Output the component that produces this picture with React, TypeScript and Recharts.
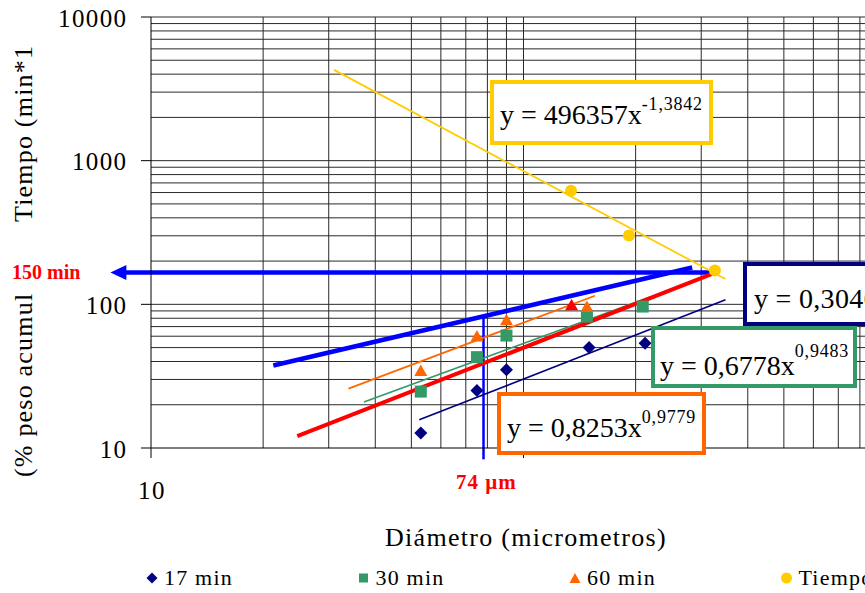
import React from 'react';
import { ComposedChart, Line, Scatter, XAxis, YAxis, CartesianGrid, ReferenceLine } from 'recharts';

const FONT = "'Liberation Serif', 'Times New Roman', Times, serif";

// ---- series (diameter in µm, % cumulative weight / time in min) ----
const seriesNames = ['17 min', '30 min', '60 min', 'Tiempo'];
const seriesColors = ['#000080', '#339966', '#FF6600', '#FFCC00'];

const diam17 = [53, 75, 90, 150, 212];
const peso17 = [12.7, 25.1, 35.0, 50.0, 53.7];
const diam30 = [53, 75, 90, 148, 209];
const peso30 = [24.7, 42.9, 60.6, 82.2, 96.5];
const diam60 = [53, 75, 90, 148];
const peso60 = [34.6, 60.3, 78.0, 96.5];
const diamRed = [134.6];
const pesoRed = [99.2];
const diamTiempo = [134.1, 191.9, 326.5];
const tiempoMin = [618, 301.6, 172];

// ---- trend lines (end points) ----
const trendTiempoX = [31.0, 348.6];
const trendTiempoY = [4285, 150];
const trend17X = [52.5, 348.6];
const trend17Y = [15.7, 107.5];
const trend30X = [37.3, 218];
const trend30Y = [20.9, 112];
const trend60X = [33.9, 155.5];
const trend60Y = [25.9, 114.8];
const redX = [24.7, 328.5];
const redY = [12.1, 166.6];
const blueX = [21.3, 283.7];
const blueY = [37.5, 180.5];
const arrowX = [7.78, 328.5];
const arrowY = 166.6;
const cutX = 78.1;
const cutY = [8.34, 81];

// ---- axes ----
const xTicks = [10, 100, 1000];
const xTickLabels = ['10', '', ''];
const yTicks = [10, 100, 1000, 10000];
const yTickLabels = ['10', '100', '1000', '10000'];
const xGrid = [20, 30, 40, 50, 60, 70, 80, 90, 100, 200, 300, 400, 500, 600, 700, 800, 900];
const yGrid = [20, 30, 40, 50, 60, 70, 80, 90, 100, 200, 300, 400, 500, 600, 700, 800, 900, 1000,
  2000, 3000, 4000, 5000, 6000, 7000, 8000, 9000, 10000];

const xTitle = 'Diámetro (micrometros)';
const yTitleLow = '(% peso acumul';
const yTitleHigh = 'Tiempo (min*1';
const label150 = '150 min';
const label74 = '74 µm';

const eqBase = ['y = 496357x', 'y = 0,3046x', 'y = 0,6778x', 'y = 0,8253x'];
const eqExp = ['-1,3842', '1,0173', '0,9483', '0,9779'];
const eqColors = ['#FFCC00', '#000080', '#339966', '#FF6600'];

const pts = (xs: number[], ys: number[]) => xs.map((x, i) => ({ x, y: ys[i] }));

const d17 = pts(diam17, peso17);
const d30 = pts(diam30, peso30);
const d60 = pts(diam60, peso60);
const dRed = pts(diamRed, pesoRed);
const dTiempo = pts(diamTiempo, tiempoMin);

// ---- layout (pixels) ----
const boxes = [
  { x: 492, y: 82, w: 219, h: 61, tx: 500, ty: 123.5, dy: -14, ls: 0 },
  { x: 745, y: 264, w: 215, h: 60, tx: 754, ty: 308, dy: -16, ls: 0.3 },
  { x: 653, y: 328, w: 202, h: 58, tx: 660, ty: 375, dy: -18, ls: 0 },
  { x: 499, y: 394, w: 205, h: 59, tx: 507, ty: 436.5, dy: -13.5, ls: 0 },
];

const Diamond = (p: any) => {
  const { cx, cy } = p;
  const r = 6.5;
  return <polygon points={`${cx},${cy - r} ${cx + r},${cy} ${cx},${cy + r} ${cx - r},${cy}`} fill={seriesColors[0]} />;
};
const Square = (p: any) => <rect x={p.cx - 6} y={p.cy - 6} width={12} height={12} fill={seriesColors[1]} />;
const makeTriangle = (color: string) => (p: any) => {
  const { cx, cy } = p;
  return <polygon points={`${cx},${cy - 6} ${cx + 6.5},${cy + 5.5} ${cx - 6.5},${cy + 5.5}`} fill={color} />;
};
const Dot = (p: any) => <circle cx={p.cx} cy={p.cy} r={6} fill={seriesColors[3]} />;

const XTick = (props: any) => {
  const { x, y, payload } = props;
  const i = xTicks.indexOf(payload.value);
  const label = i >= 0 ? xTickLabels[i] : '';
  if (!label) return <g />;
  return (
    <text x={x + 1} y={y + 38.5} textAnchor="middle" fontSize={25} fontFamily={FONT} letterSpacing={1.4} fill="#000">
      {label}
    </text>
  );
};
const YTick = (props: any) => {
  const { x, y, payload } = props;
  const i = yTicks.indexOf(payload.value);
  const label = i >= 0 ? yTickLabels[i] : '';
  return (
    <text x={x - 11.5} y={y + 9.5} textAnchor="end" fontSize={25} fontFamily={FONT} letterSpacing={1.4} fill="#000">
      {label}
    </text>
  );
};

const ArrowShape = (props: any) => {
  const { x1, y1, x2, y2 } = props;
  const left = Math.min(x1, x2);
  const right = Math.max(x1, x2);
  const yy = y1 ?? y2;
  return (
    <g>
      <line x1={left + 12} y1={yy} x2={right} y2={yy} stroke="#0000FF" strokeWidth={4.5} />
      <polygon points={`${left},${yy} ${left + 16},${yy - 7.5} ${left + 16},${yy + 7.5}`} fill="#0000FF" />
    </g>
  );
};

const lineProps = { dot: false, activeDot: false, isAnimationActive: false, type: 'linear' as const, dataKey: 'y', legendType: 'none' as const };

export default function App() {
  return (
    <div style={{ position: 'absolute', left: 0, top: 0, width: 865, height: 593, overflow: 'hidden', background: '#fff' }}>
      <ComposedChart width={910} height={593} margin={{ top: 17, right: 14, bottom: 0, left: 0 }}>
        <CartesianGrid horizontalValues={yGrid} verticalValues={xGrid} stroke="#2a2a2a" strokeWidth={1} />
        <XAxis
          dataKey="x"
          type="number"
          scale="log"
          domain={[10, 1000]}
          allowDataOverflow
          ticks={xTicks}
          tick={<XTick />}
          tickSize={10}
          tickMargin={2}
          height={145}
          axisLine={{ stroke: '#000' }}
          tickLine={{ stroke: '#000' }}
          interval={0}
        />
        <YAxis
          dataKey="y"
          type="number"
          scale="log"
          domain={[10, 10000]}
          allowDataOverflow
          ticks={yTicks}
          tick={<YTick />}
          tickSize={10}
          tickMargin={2}
          width={151}
          axisLine={{ stroke: '#000' }}
          tickLine={{ stroke: '#000' }}
          interval={0}
        />
        <ReferenceLine
          segment={[{ x: arrowX[0], y: arrowY }, { x: arrowX[1], y: arrowY }]}
          ifOverflow="visible"
          shape={<ArrowShape />}
        />
        <ReferenceLine
          segment={[{ x: cutX, y: cutY[0] }, { x: cutX, y: cutY[1] }]}
          ifOverflow="visible"
          stroke="#0000FF"
          strokeWidth={2.5}
        />
        <Line data={pts(trendTiempoX, trendTiempoY)} stroke="#FFCC00" strokeWidth={1.75} {...lineProps} />
        <Line data={pts(trend17X, trend17Y)} stroke="#000080" strokeWidth={1.6} {...lineProps} />
        <Line data={pts(trend30X, trend30Y)} stroke="#339966" strokeWidth={1.6} {...lineProps} />
        <Line data={pts(trend60X, trend60Y)} stroke="#FF6600" strokeWidth={1.75} {...lineProps} />
        <Line data={pts(blueX, blueY)} stroke="#0000FF" strokeWidth={4.5} {...lineProps} />
        <Line data={pts(redX, redY)} stroke="#FF0000" strokeWidth={4} {...lineProps} />
        <Scatter name={seriesNames[0]} data={d17} shape={Diamond} isAnimationActive={false} />
        <Scatter name={seriesNames[1]} data={d30} shape={Square} isAnimationActive={false} />
        <Scatter name={seriesNames[2]} data={d60} shape={makeTriangle(seriesColors[2])} isAnimationActive={false} />
        <Scatter name="d100" data={dRed} shape={makeTriangle('#FF0000')} isAnimationActive={false} />
        <Scatter name={seriesNames[3]} data={dTiempo} shape={Dot} isAnimationActive={false} />
      </ComposedChart>

      <svg width={865} height={593} style={{ position: 'absolute', left: 0, top: 0, pointerEvents: 'none' }}>
        {/* y axis title (two visible parts) */}
        <text transform="translate(32,222) rotate(-90)" fontSize={26} fontFamily={FONT} letterSpacing={1.2} fill="#000">
          {yTitleHigh}
        </text>
        <text transform="translate(32,477) rotate(-90)" fontSize={26} fontFamily={FONT} letterSpacing={1.2} fill="#000">
          {yTitleLow}
        </text>
        {/* x axis title */}
        <text x={526} y={546} textAnchor="middle" fontSize={26} fontFamily={FONT} letterSpacing={1.3} fill="#000">
          {xTitle}
        </text>
        {/* annotations */}
        <text x={12} y={278.5} fontSize={20} fontWeight="bold" fontFamily={FONT} fill="#FF0000">{label150}</text>
        <text x={456} y={489} fontSize={21} fontWeight="bold" fontFamily={FONT} letterSpacing={1} fill="#FF0000">{label74}</text>
        {/* equation boxes */}
        {boxes.map((b, i) => (
          <g key={i}>
            <rect x={b.x} y={b.y} width={b.w} height={b.h} fill="#fff" stroke={eqColors[i]} strokeWidth={4} />
            <text x={b.tx} y={b.ty} fontSize={28} fontFamily={FONT} letterSpacing={b.ls} fill="#000">
              {eqBase[i]}
              <tspan dy={b.dy} fontSize={18} letterSpacing={0.8}>{eqExp[i]}</tspan>
            </text>
          </g>
        ))}
        {/* legend */}
        {seriesNames.map((name, i) => {
          const cx = 152 + i * 211.5;
          const cy = 578;
          const c = seriesColors[i];
          let icon;
          if (i === 0) icon = <polygon points={`${cx},${cy - 5.5} ${cx + 5.5},${cy} ${cx},${cy + 5.5} ${cx - 5.5},${cy}`} fill={c} />;
          else if (i === 1) icon = <rect x={cx - 4.5} y={cy - 4.5} width={9} height={9} fill={c} />;
          else if (i === 2) icon = <polygon points={`${cx},${cy - 5} ${cx + 5.5},${cy + 5} ${cx - 5.5},${cy + 5}`} fill={c} />;
          else icon = <circle cx={cx} cy={cy} r={5.5} fill={c} />;
          return (
            <g key={name}>
              {icon}
              <text x={cx + 12} y={585} fontSize={22} fontFamily={FONT} letterSpacing={1.2} fill="#000">{name}</text>
            </g>
          );
        })}
      </svg>
    </div>
  );
}
